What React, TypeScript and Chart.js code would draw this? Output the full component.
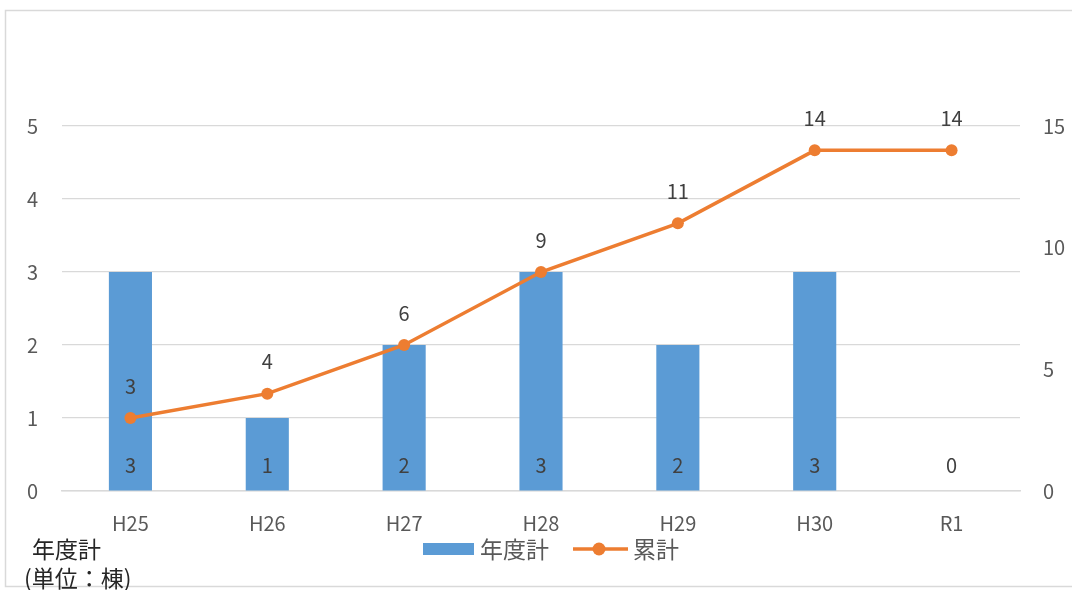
import React, { useEffect, useRef } from "react";
import { Chart, registerables } from "chart.js";

Chart.register(...registerables);

const categories = ["H25", "H26", "H27", "H28", "H29", "H30", "R1"];
const yearly = [3, 1, 2, 3, 2, 3, 0];
const cumulative = [3, 4, 6, 9, 11, 14, 14];
const leftTicks = [0, 1, 2, 3, 4, 5];
const rightTicks = [0, 5, 10, 15];
const seriesNames = ["年度計", "累計"];

const BAR = "#5B9BD5";
const LINE = "#ED7D31";
const TXT = "#595959";
const FONT = "'Noto Sans CJK JP', 'Noto Sans', sans-serif";

const extrasPlugin = {
  id: "extras",
  beforeDraw(chart: any) {
    const ctx = chart.ctx;
    ctx.save();
    ctx.fillStyle = "#fff";
    ctx.fillRect(0, 0, chart.width, chart.height);
    ctx.strokeStyle = "#d9d9d9";
    ctx.lineWidth = 1.5;
    ctx.strokeRect(5.5, 10.5, 1080, 576);
    ctx.restore();
  },
  afterDatasetsDraw(chart: any) {
    const ctx = chart.ctx;
    ctx.save();
    ctx.font = `20px ${FONT}`;
    ctx.fillStyle = "#404040";
    ctx.textAlign = "center";
    ctx.textBaseline = "middle";
    const yScale = chart.scales.y;
    const barMeta = chart.getDatasetMeta(0);
    barMeta.data.forEach((el: any, i: number) => {
      ctx.fillText(String(yearly[i]), el.x, yScale.getPixelForValue(0) - 26);
    });
    const lineMeta = chart.getDatasetMeta(1);
    lineMeta.data.forEach((el: any, i: number) => {
      ctx.fillText(String(cumulative[i]), el.x, el.y - 32);
    });

    // legend
    const ly = 549;
    ctx.fillStyle = BAR;
    ctx.fillRect(423, ly - 6, 51, 12);
    ctx.fillStyle = TXT;
    ctx.font = `23px ${FONT}`;
    ctx.textAlign = "left";
    ctx.fillText(seriesNames[0], 480, ly);
    ctx.strokeStyle = LINE;
    ctx.lineWidth = 3.5;
    ctx.beginPath();
    ctx.moveTo(573, ly);
    ctx.lineTo(628, ly);
    ctx.stroke();
    ctx.fillStyle = LINE;
    ctx.beginPath();
    ctx.arc(599, ly, 6.5, 0, Math.PI * 2);
    ctx.fill();
    ctx.fillStyle = TXT;
    ctx.fillText(seriesNames[1], 633, ly);

    ctx.font = `23px ${FONT}`;
    ctx.fillStyle = "#262626";
    ctx.fillText("年度計", 32, 549);
    ctx.fillText("(単位：棟)", 24, 578);
    ctx.restore();
  },
};

export default function App() {
  const ref = useRef<HTMLCanvasElement>(null);
  useEffect(() => {
    const chart = new Chart(ref.current!, {
      data: {
        labels: categories,
        datasets: [
          {
            type: "bar",
            label: seriesNames[0],
            data: yearly,
            backgroundColor: BAR,
            yAxisID: "y",
            barPercentage: 0.63,
            categoryPercentage: 0.5,
            order: 2,
          },
          {
            type: "line",
            label: seriesNames[1],
            data: cumulative,
            borderColor: LINE,
            backgroundColor: LINE,
            borderWidth: 3.5,
            pointRadius: 6,
            pointBackgroundColor: LINE,
            pointBorderWidth: 0,
            yAxisID: "y2",
            order: 1,
          },
        ],
      } as any,
      options: {
        animation: false,
        responsive: false,
        layout: { padding: { top: 126, bottom: 49, left: 0, right: 0 } },
        plugins: {
          tooltip: { enabled: false },
          legend: { display: false },
        },
        scales: {
          x: {
            grid: { display: false, drawTicks: false },
            border: { color: "#d9d9d9", width: 1.5 },
            ticks: { color: TXT, font: { size: 20, family: FONT }, padding: 20 },
            afterFit: (s: any) => { s.height = 50; },
          },
          y: {
            position: "left",
            min: 0,
            max: 5,
            grid: { color: "#d9d9d9", lineWidth: 1.2, drawTicks: false },
            border: { display: false },
            afterBuildTicks: (s: any) => { s.ticks = leftTicks.map((v) => ({ value: v })); },
            ticks: { color: TXT, font: { size: 20, family: FONT }, padding: 24 },
            afterFit: (s: any) => { s.width = 62; },
          },
          y2: {
            position: "right",
            min: 0,
            max: 15,
            grid: { display: false, drawTicks: false },
            border: { display: false },
            afterBuildTicks: (s: any) => { s.ticks = rightTicks.map((v) => ({ value: v })); },
            ticks: { color: TXT, font: { size: 20, family: FONT }, padding: 23 },
            afterFit: (s: any) => { s.width = 52; },
          },
        },
      },
      plugins: [extrasPlugin],
    });
    return () => chart.destroy();
  }, []);
  return (
    <div style={{ position: "absolute", left: 0, top: 0, width: 1072, height: 590 }}>
      <canvas ref={ref} width={1072} height={590} style={{ display: "block" }} />
    </div>
  );
}
